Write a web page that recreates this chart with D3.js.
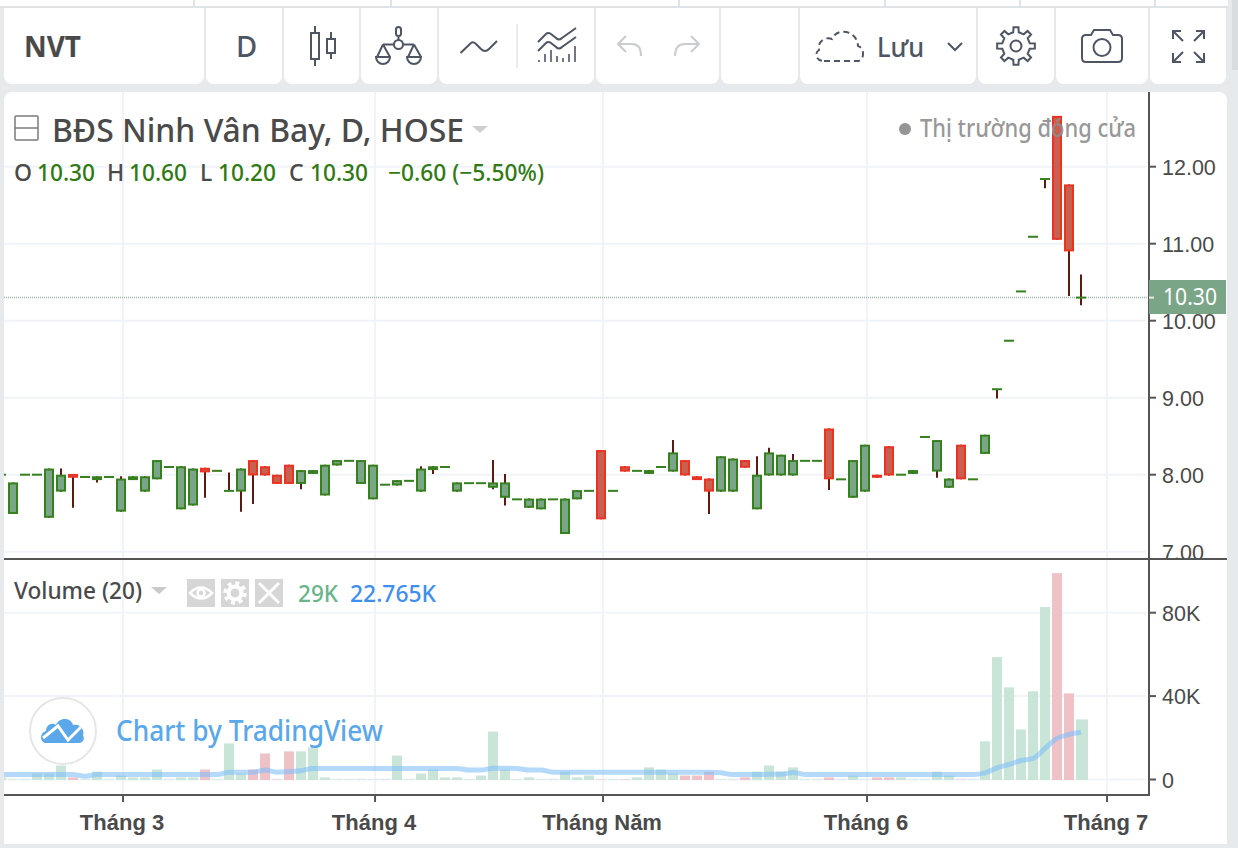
<!DOCTYPE html>
<html lang="vi">
<head>
<meta charset="utf-8">
<title>NVT</title>
<script src="https://cdn.jsdelivr.net/npm/d3@7/dist/d3.min.js"></script>
<style>
html,body{margin:0;padding:0;background:#e6eaed;overflow:hidden}
svg{display:block}
text{font-family:"Noto Sans",sans-serif}
.ax{font-family:"Liberation Sans",Arial,sans-serif;font-size:21.5px;fill:#4a4a4a}
.tm{font-family:"Liberation Sans",Arial,sans-serif;font-size:22px;font-weight:700;fill:#4a4a4a}
</style>
</head>
<body>
<svg id="c" width="1238" height="848"></svg>
<script>
// ---------- data ----------
const opens =  [8.00,7.49,8.00,8.00,7.44,7.78,8.01,7.97,7.93,7.97,7.52,7.93,7.78,7.94,8.10,7.55,7.60,8.09,8.05,7.79,7.78,8.19,8.11,8.00,8.13,7.88,8.01,7.73,8.12,8.18,7.88,7.68,7.87,7.86,7.92,7.78,8.06,8.10,7.78,7.89,7.89,7.83,7.70,7.68,7.57,7.55,7.68,7.23,7.68,7.79,8.32,7.79,8.11,8.05,8.01,8.10,8.04,8.19,7.98,7.95,7.78,7.78,8.19,7.55,7.99,7.99,7.99,8.18,8.18,8.60,7.94,7.70,7.78,8.00,8.37,8.00,8.01,8.49,8.04,7.83,8.39,7.94,8.27,9.11,9.74,10.38,11.09,11.84,12.66,11.77,10.30];
const closes = [8.00,7.90,8.00,8.00,8.08,8.00,7.96,7.97,7.98,7.97,7.95,7.98,7.98,8.19,8.10,8.11,8.08,8.03,8.05,7.79,8.08,7.99,7.99,7.88,7.88,8.06,8.06,8.13,8.19,8.18,8.19,8.13,7.87,7.93,7.92,8.08,8.11,8.10,7.90,7.89,7.89,7.90,7.90,7.68,7.69,7.69,7.68,7.69,7.80,7.79,7.42,7.79,8.04,8.05,8.06,8.10,8.29,7.99,7.93,7.78,8.24,8.21,8.09,8.00,8.29,8.26,8.19,8.18,8.18,7.94,7.94,8.19,8.39,7.96,7.99,8.00,8.06,8.49,8.45,7.95,7.94,7.94,8.52,9.11,9.74,10.38,11.09,11.84,11.05,10.90,10.30];
const highs =  [8.00,7.90,8.00,8.00,8.08,8.08,8.01,7.97,7.98,7.97,7.98,7.98,7.98,8.19,8.10,8.11,8.08,8.09,8.05,8.03,8.08,8.19,8.11,8.00,8.13,8.06,8.06,8.13,8.19,8.18,8.19,8.13,7.87,7.93,7.92,8.11,8.11,8.10,7.90,7.89,7.89,8.19,8.01,7.68,7.69,7.69,7.68,7.69,7.80,7.79,8.32,7.79,8.11,8.05,8.06,8.10,8.45,8.19,7.98,7.95,8.24,8.21,8.19,8.24,8.35,8.26,8.27,8.18,8.18,8.60,7.94,8.19,8.39,8.00,8.37,8.00,8.06,8.49,8.45,7.95,8.39,7.94,8.52,9.11,9.74,10.38,11.09,11.84,12.66,11.77,10.60];
const lows =   [8.00,7.49,8.00,8.00,7.44,7.78,7.57,7.97,7.90,7.97,7.52,7.93,7.78,7.94,8.10,7.55,7.60,7.70,8.05,7.79,7.52,7.62,7.99,7.88,7.88,7.81,8.01,7.73,8.12,8.18,7.88,7.68,7.87,7.86,7.92,7.78,8.01,8.10,7.78,7.89,7.89,7.81,7.60,7.68,7.57,7.55,7.68,7.23,7.68,7.79,7.42,7.79,8.04,8.05,8.01,8.10,8.04,7.99,7.93,7.49,7.78,7.78,8.09,7.55,7.99,7.99,7.99,8.18,8.18,7.80,7.94,7.70,7.78,7.96,7.99,8.00,8.01,8.49,7.96,7.83,7.94,7.94,8.27,8.99,9.74,10.38,11.09,11.72,11.05,10.32,10.20];
const volumes =[1,0,0,2.9,2.9,6.7,1,0,3.8,0,1.9,1,1,4.8,0,1,1,4.8,0,17.3,2.9,4.8,12.5,0,13.5,13.5,15.4,1,0,0,0,0,0,11.5,0,2.9,4.8,1,1,0,1.9,23,4.8,0,1,0,0,3.8,1,1.9,0,0,0,1,5.8,4.8,2.9,1.9,1.9,3.8,0,0,1,3.8,6.7,3.8,5.8,0,0,1,0,1.9,0,1,1,1,0,0,3.8,1.9,0,0,18.3,58.7,44.2,24,42.3,82.7,99,41.3,28.8];
const volumeMA =[2.4,2.4,2.4,2.4,2.4,2.4,2.4,1.6,2.4,2.4,2.4,2.4,2.4,2.4,2.4,2.4,2.4,2.4,2.4,3.5,3.5,3.5,4.5,3.5,3.8,4.2,5.3,5.3,5.3,5.3,5.3,5.3,5.3,5.3,5.3,5.3,5.3,5.3,5.3,4.5,4.5,5.4,5.4,5.3,4.5,4.5,3.5,3.5,3.5,3.5,3.5,3.5,3.5,3.5,3.5,3.5,3.5,3.5,3.5,3.5,3.2,2.4,2.4,2.4,2.5,2.5,3.4,2.4,2.4,2.4,2.4,2.4,2.4,2.4,2.4,2.4,2.4,2.4,2.4,2.4,2.4,2.4,3.2,5.6,7.2,9.1,10.1,14.9,19.7,21.6,22.765];
const priceTicks = [7,8,9,10,11,12];
const volumeTicks = [0,40,80];
const monthTicks = [{i:10.17,l:"Tháng 3",dx:-1},{i:31.17,l:"Tháng 4",dx:-1},{i:50.17,l:"Tháng Năm",dx:-1},{i:72.17,l:"Tháng 6",dx:-1},{i:92.17,l:"Tháng 7",dx:-1}];
const lastPrice = 10.30;
const legendOHLC = [["O","10.30",14,37],["H","10.60",107,129],["L","10.20",200,218],["C","10.30",289,310]];

// ---------- colours ----------
const BG="#e6eaed",GRID="#f0f4f8",AXIS="#555555",TXT="#4a4a4a",ICON="#4f5663";
const upFill="#7aa586",upLine="#37801f",dnFill="#c9604d",dnLine="#ea3323",wick="#5b1a13";
const volUp="#c9e5d8",volDn="#efc2c8";

// ---------- scales ----------
const x = d3.scaleLinear().domain([0,90]).range([1,1081]);
const y = d3.scaleLinear().domain([8,12]).range([474.7,166.7]);
const yv = d3.scaleLinear().domain([0,80]).range([779.5,612.7]);
const barW = 10;

const svg = d3.select("#c");
const defs = svg.append("defs");
defs.append("clipPath").attr("id","pricePane").append("rect").attr("x",4).attr("y",92).attr("width",1145).attr("height",466);
defs.append("clipPath").attr("id","volPane").append("rect").attr("x",4).attr("y",560).attr("width",1145).attr("height",234);
defs.append("clipPath").attr("id","priceAxis").append("rect").attr("x",1150).attr("y",92).attr("width",77).attr("height",466);

// ---------- toolbar frame ----------
svg.append("rect").attr("width",1238).attr("height",848).attr("fill",BG);
svg.append("rect").attr("x",0).attr("y",0).attr("width",1228).attr("height",6).attr("fill","#fff");
svg.append("rect").attr("x",0).attr("y",6).attr("width",1228).attr("height",2).attr("fill","#dfe3e6");
[193,390,678,884,1019,1154].forEach(v=>svg.append("rect").attr("x",v).attr("y",0).attr("width",2).attr("height",7).attr("fill","#dfe3e6"));
const cells=[[4,204],[206,282],[284,359],[361,437],[439,594],[596,719],[721,798],[800,976],[978,1054],[1056,1148],[1150,1226]];
cells.forEach(([a,b])=>{
  svg.append("path").attr("fill","#fff")
   .attr("d",`M${a},8H${b}V76a8,8 0 0 1 -8,8H${a+8}a8,8 0 0 1 -8,-8Z`);
});
svg.append("rect").attr("x",1232).attr("y",0).attr("width",6).attr("height",70).attr("fill","#d9dde0");

const tb = svg.append("g").attr("fill","none").attr("stroke",ICON).attr("stroke-width",2);
svg.append("text").attr("x",24).attr("y",57).attr("font-size",28).attr("font-weight",700).attr("fill",TXT).attr("textLength",57).attr("lengthAdjust","spacingAndGlyphs").text("NVT");
svg.append("text").attr("x",236).attr("y",57).attr("font-size",29).attr("font-weight",500).attr("fill",ICON).text("D");
// candle icon
tb.append("rect").attr("x",311).attr("y",33).attr("width",8).attr("height",26);
tb.append("path").attr("d","M315,26V33M315,59V66M331,32V39M331,53V59");
tb.append("rect").attr("x",327).attr("y",39).attr("width",8).attr("height",14);
// balance icon
tb.append("circle").attr("cx",398.5).attr("cy",44.5).attr("r",4.5);
tb.append("path").attr("d","M398.5,40V36M394,44.5H383M403,44.5H414M383,44.5L377,57M383,44.5L390,57M414,44.5L408,57M414,44.5L421,57");
tb.append("rect").attr("x",396).attr("y",27).attr("width",5).attr("height",9).attr("rx",2.5);
tb.append("path").attr("d","M376,57H390A7,7 0 0 1 376,57Z");
tb.append("path").attr("d","M407,57H421A7,7 0 0 1 407,57Z");
// wave icon
tb.append("path").attr("d","M460.5,53L471,43Q473,41 476,44L481,49Q485,53 489,49L497,41");
svg.append("rect").attr("x",516).attr("y",24).attr("width",2).attr("height",44).attr("fill","#e8ecef");
// indicator icon
tb.append("path").attr("d","M538,42L546,34Q548,32 551,34L556,38Q559,41 562,38L576,28M538,51L546,43Q548,41 551,43L556,47Q559,50 562,47L576,37");
tb.append("path").attr("stroke-width",1.6).attr("d","M539,62V60M545,62V54M551,62V50M557,62V56M563,62V58M569,62V54M575,62V46");
// undo / redo
const ur = svg.append("g").attr("fill","none").attr("stroke","#c9ccd0").attr("stroke-width",2);
ur.append("path").attr("d","M626,36L618,44L626,52M618,44H632Q641,44 641,56");
ur.append("path").attr("d","M691,36L699,44L691,52M699,44H685Q675,44 675,56");
// cloud
tb.append("path").attr("stroke-dasharray","6 4").attr("d","M824,61H857C865,61 865,48 858,46C857,30 837,27 832,39C825,36 817,42 819,50C814,53 816,61 824,61Z");
svg.append("text").attr("x",877).attr("y",57).attr("font-size",27).attr("fill",ICON).attr("font-weight",500).attr("textLength",47).attr("lengthAdjust","spacingAndGlyphs").text("Lưu");
tb.append("path").attr("d","M948,43L955,50L962,43");
// gear
const gear = tb.append("g").attr("transform","translate(1016,46)");
gear.append("circle").attr("r",5.5);
const gearPts=[];for(let k=0;k<8;k++){const a0=k*Math.PI/4;const pts=[[-0.2,14],[-0.13,19],[0.13,19],[0.2,14]];
 pts.forEach(([da,r])=>gearPts.push([Math.sin(a0+da)*r,-Math.cos(a0+da)*r]));}
gear.append("path").attr("d",d3.line()(gearPts)+"Z");
// camera
tb.append("path").attr("d","M1086,35H1091L1094,30H1110L1113,35H1118Q1122,35 1122,39V58Q1122,62 1118,62H1086Q1082,62 1082,58V39Q1082,35 1086,35Z");
tb.append("circle").attr("cx",1102).attr("cy",47.5).attr("r",8.5);
// fullscreen
tb.append("path").attr("d","M1173,39V31H1181M1173,31L1183,41M1204,39V31H1196M1204,31L1194,41M1173,53V62H1181M1173,62L1183,52M1204,53V62H1196M1204,62L1194,52");

// ---------- chart panel ----------
svg.append("path").attr("fill","#fff").attr("d","M12,92H1219a8,8 0 0 1 8,8V844H4V100a8,8 0 0 1 8,-8Z");

// grids
const grid = svg.append("g").attr("stroke",GRID).attr("stroke-width",2);
grid.selectAll(".gv").data(monthTicks).join("line").attr("x1",d=>x(d.i)).attr("x2",d=>x(d.i)).attr("y1",92).attr("y2",794);
grid.selectAll(".gp").data(priceTicks).join("line").attr("x1",4).attr("x2",1146).attr("y1",d=>y(d)).attr("y2",d=>y(d));
grid.selectAll(".gq").data(volumeTicks).join("line").attr("x1",4).attr("x2",1146).attr("y1",d=>yv(d)).attr("y2",d=>yv(d));

// volume bars + MA
const vp = svg.append("g").attr("clip-path","url(#volPane)");
const lastIdx = volumes.length-1;
vp.selectAll("rect").data(volumes.map((v,i)=>({v,i}))).join("rect")
  .attr("x",d=>x(d.i)-(d.i===lastIdx?5:barW/2)).attr("width",d=>d.i===lastIdx?barW+2:barW)
  .attr("y",d=>yv(d.v)).attr("height",d=>yv(0)+0.5-yv(d.v))
  .attr("fill",d=>closes[d.i]<opens[d.i]?volDn:volUp);
vp.append("path").datum(volumeMA)
  .attr("d",d3.line().x((d,i)=>x(i)).y(d=>yv(d)).curve(d3.curveMonotoneX))
  .attr("fill","none").attr("stroke","#7dbdf8").attr("stroke-opacity",.58).attr("stroke-width",5);

// candles
const pp = svg.append("g").attr("clip-path","url(#pricePane)");
const idx = d3.range(opens.length);
pp.append("line").datum(lastPrice).attr("x1",4).attr("x2",1149).attr("y1",y).attr("y2",y)
  .attr("stroke",upFill).attr("stroke-opacity",.75).attr("stroke-width",1.5).attr("stroke-dasharray","1 1");
pp.selectAll(".w").data(idx).join("line")
  .attr("x1",i=>x(i)).attr("x2",i=>x(i)).attr("y1",i=>y(highs[i])).attr("y2",i=>y(lows[i]))
  .attr("stroke",wick).attr("stroke-width",2);
pp.selectAll(".b").data(idx).join("rect")
  .each(function(i){
    const top=y(Math.max(opens[i],closes[i])),bot=y(Math.min(opens[i],closes[i]));
    const dn=closes[i]<opens[i],sel=d3.select(this),h=bot-top;
    if(h<2.5){
      sel.attr("x",x(i)-barW/2).attr("width",barW).attr("y",top-1).attr("height",2).attr("fill",dn?dnLine:upLine);
    }else{
      sel.attr("x",x(i)-barW/2+1).attr("width",barW-2).attr("y",top+1).attr("height",h-2)
         .attr("fill",dn?dnFill:upFill).attr("stroke",dn?dnLine:upLine).attr("stroke-width",2);
    }
  });

// axis lines
const ax = svg.append("g").attr("stroke",AXIS).attr("stroke-width",2);
ax.append("line").attr("x1",1149).attr("x2",1149).attr("y1",92).attr("y2",796);
ax.append("line").attr("x1",4).attr("x2",1227).attr("y1",559).attr("y2",559);
ax.append("line").attr("x1",4).attr("x2",1150).attr("y1",795).attr("y2",795);
ax.selectAll(".tp").data(priceTicks.filter(d=>d>7)).join("line").attr("x1",1150).attr("x2",1156).attr("y1",d=>y(d)).attr("y2",d=>y(d));
ax.selectAll(".tv").data(volumeTicks).join("line").attr("x1",1150).attr("x2",1156).attr("y1",d=>yv(d)).attr("y2",d=>yv(d));
ax.selectAll(".tt").data(monthTicks).join("line").attr("x1",d=>x(d.i)).attr("x2",d=>x(d.i)).attr("y1",796).attr("y2",802);

// axis labels
svg.append("g").attr("clip-path","url(#priceAxis)").selectAll("text").data(priceTicks).join("text")
  .attr("class","ax").attr("x",1162).attr("y",d=>y(d)+8).text(d=>d3.format(".2f")(d));
svg.selectAll(".vl").data(volumeTicks).join("text").attr("class","ax").attr("x",1162).attr("y",d=>yv(d)+8)
  .text(d=>d===0?"0":d+"K");
svg.selectAll(".ml").data(monthTicks).join("text").attr("class","tm").attr("text-anchor","middle")
  .attr("x",d=>x(d.i)+d.dx).attr("y",830).text(d=>d.l);

// last price badge
svg.append("rect").attr("x",1149).attr("y",280).attr("width",77).attr("height",34).attr("fill",upFill);
svg.append("line").attr("x1",1149).attr("x2",1154).attr("y1",y(lastPrice)).attr("y2",y(lastPrice)).attr("stroke","#fff").attr("stroke-width",2).attr("opacity",.8);
svg.append("text").attr("x",1163).attr("y",y(lastPrice)+7.5).attr("font-size",23).attr("fill","#fff").attr("textLength",54).attr("lengthAdjust","spacingAndGlyphs").text(d3.format(".2f")(lastPrice));

// header legend
const fold=svg.append("g").attr("fill","none").attr("stroke","#7b7b7b").attr("stroke-width",1.5);
fold.append("rect").attr("x",15).attr("y",116).attr("width",23).attr("height",24).attr("rx",1);
fold.append("line").attr("x1",15).attr("x2",38).attr("y1",128).attr("y2",128);
svg.append("text").attr("x",52).attr("y",142).attr("font-size",33).attr("font-weight",500).attr("fill",TXT).attr("textLength",412).attr("lengthAdjust","spacingAndGlyphs").text("BĐS Ninh Vân Bay, D, HOSE");
svg.append("path").attr("d","M472,126H488L480,133Z").attr("fill","#cfcfcf");
legendOHLC.forEach(([k,v,a,b])=>{
  svg.append("text").attr("x",a).attr("y",181).attr("font-size",23).attr("font-weight",500).attr("fill",TXT).text(k);
  svg.append("text").attr("x",b).attr("y",181).attr("font-size",23).attr("font-weight",500).attr("fill","#307a14").attr("textLength",58).attr("lengthAdjust","spacingAndGlyphs").text(v);
});
svg.append("text").attr("x",388).attr("y",181).attr("font-size",23).attr("font-weight",500).attr("fill","#307a14").attr("textLength",156).attr("lengthAdjust","spacingAndGlyphs").text("−0.60 (−5.50%)");

// market closed
svg.append("circle").attr("cx",905).attr("cy",129).attr("r",6).attr("fill","#959595");
svg.append("text").attr("x",920).attr("y",137).attr("font-size",25).attr("font-weight",500).attr("fill","#8e8e8e").attr("fill-opacity",.92).attr("textLength",216).attr("lengthAdjust","spacingAndGlyphs").text("Thị trường đóng cửa");

// volume legend
svg.append("text").attr("x",14).attr("y",599).attr("font-size",23).attr("font-weight",500).attr("fill",TXT).attr("textLength",128).attr("lengthAdjust","spacingAndGlyphs").text("Volume (20)");
svg.append("path").attr("d","M151,587H167L159,594Z").attr("fill","#c9c9c9");
[187,221,255].forEach(v=>svg.append("rect").attr("x",v).attr("y",579).attr("width",28).attr("height",28).attr("fill","#d6d6d6"));
// eye, gear, cross
const wi=svg.append("g").attr("fill","none").attr("stroke","#fff").attr("stroke-width",2.5);
wi.append("path").attr("d","M190,593Q201,582 212,593Q201,604 190,593Z");
wi.append("circle").attr("cx",201).attr("cy",593).attr("r",3.5);
wi.append("circle").attr("cx",235).attr("cy",593).attr("r",6.5).attr("stroke-width",4);
wi.append("circle").attr("cx",235).attr("cy",593).attr("r",10).attr("stroke-width",3.5).attr("stroke-dasharray","4 3.85");
wi.append("path").attr("stroke-width",3).attr("d","M259,583L279,603M279,583L259,603");
svg.append("text").attr("x",298).attr("y",602).attr("font-size",23).attr("font-weight",500).attr("fill","#6ab58a").attr("textLength",40).attr("lengthAdjust","spacingAndGlyphs").text("29K");
svg.append("text").attr("x",350).attr("y",602).attr("font-size",23).attr("font-weight",500).attr("fill","#3f8fef").attr("textLength",86).attr("lengthAdjust","spacingAndGlyphs").text("22.765K");

// watermark
svg.append("circle").attr("cx",63).attr("cy",731).attr("r",33).attr("fill","#fff").attr("stroke","#e6e6e6").attr("stroke-width",2);
svg.append("path").attr("fill","#5aa7ea").attr("d","M46,743C40,743 39,733 46,731C46,725 52,722 56,725C59,717 71,717 73,725C80,723 85,730 83,735C85,739 83,743 79,743Z");
svg.append("path").attr("fill","none").attr("stroke","#fff").attr("stroke-width",3).attr("d","M43,738L58,726L68,740L81,727");
svg.append("text").attr("x",116).attr("y",741).attr("font-size",28).attr("font-weight",500).attr("fill","#5aa7ea").attr("textLength",267).attr("lengthAdjust","spacingAndGlyphs").text("Chart by TradingView");
</script>
</body>
</html>
